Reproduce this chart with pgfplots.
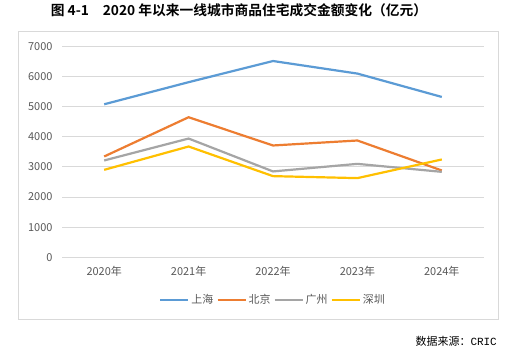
\documentclass[border=0pt]{standalone}
\usepackage{pgfplots}
\pgfplotsset{compat=1.18}
\usepackage{fontspec}
\setmainfont{Noto Sans CJK SC}
\newfontfamily\cjkbold{Noto Sans CJK SC Bold}
\newfontfamily\monof{Liberation Mono}
\definecolor{cSH}{HTML}{5B9BD5}
\definecolor{cBJ}{HTML}{ED7D31}
\definecolor{cGZ}{HTML}{A5A5A5}
\definecolor{cSZ}{HTML}{FFC000}
\definecolor{txt}{HTML}{595959}
\definecolor{grd}{HTML}{D9D9D9}
\begin{document}
\begin{tikzpicture}[x=1bp,y=1bp]
\path[fill=white] (0,0) rectangle (511,354);
\draw[grd, line width=0.8bp] (18,35) rectangle (498,323);
\node[font=\cjkbold\fontsize{13.8}{15}\selectfont, anchor=center, inner sep=0pt] at (239,344) {图 4-1\quad 2020 年以来一线城市商品住宅成交金额变化（亿元）};
\node[font=\fontsize{11}{12}\selectfont, anchor=east, inner sep=0pt] at (497,13) {数据来源：{\monof CRIC}};
\begin{axis}[
  at={(62bp,96.7bp)}, anchor=south west,
  scale only axis, width=422bp, height=211bp,
  xmin=-0.5, xmax=4.5, ymin=0, ymax=7000,
  xtick={0,1,2,3,4},
  xticklabels={2020年,2021年,2022年,2023年,2024年},
  ytick={0,1000,...,7000},
  axis line style={draw=none},
  ymajorgrids, grid style={grd, line width=0.8bp},
  major tick length=0pt,
  /pgf/number format/assume math mode=true,
  scaled y ticks=false,
  yticklabel style={/pgf/number format/1000 sep={}, font=\fontsize{11}{12}\selectfont, text=txt, xshift=-6bp},
  xticklabel style={font=\fontsize{11}{12}\selectfont, text=txt, yshift=-5bp},
  legend columns=4,
  legend style={draw=none, at={(0.5,-0.2024)}, anchor=center, font=\fontsize{11}{12}\selectfont, text=txt, /tikz/every even column/.append style={column sep=1bp}},
  legend image code/.code={\draw[#1, line width=2.2bp] (0bp,0bp) -- (28bp,0bp);},
  every axis plot/.append style={line width=2.2bp, line join=round, mark=none},
]
\addplot[cSH] coordinates {(0,5077) (1,5810) (2,6512) (3,6095) (4,5320)};
\addlegendentry{上海}
\addplot[cBJ] coordinates {(0,3345) (1,4647) (2,3710) (3,3875) (4,2880)};
\addlegendentry{北京}
\addplot[cGZ] coordinates {(0,3213) (1,3940) (2,2849) (3,3100) (4,2835)};
\addlegendentry{广州}
\addplot[cSZ] coordinates {(0,2902) (1,3676) (2,2693) (3,2627) (4,3246)};
\addlegendentry{深圳}
\end{axis}
\end{tikzpicture}
\end{document}
